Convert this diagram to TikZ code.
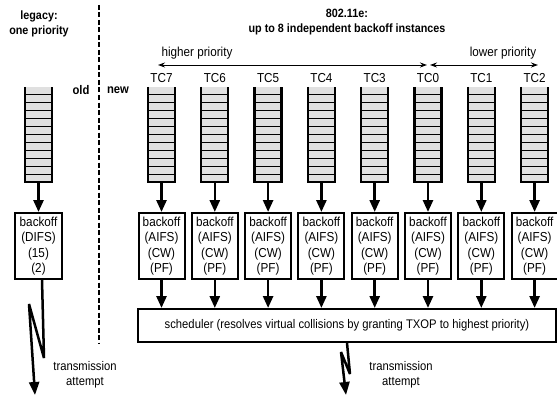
\documentclass[tikz,border=0pt]{standalone}
\usepackage{fontspec}
\setmainfont{Liberation Sans}[FakeStretch=0.9]
\usetikzlibrary{arrows.meta,calc}
\begin{document}
\begin{tikzpicture}[x=1pt,y=-1pt,
  wall/.style={line width=2.3pt},
  rung/.style={line width=1.1pt},
  qfill/.style={fill=black!12},
  bigarrow/.style={line width=2.6pt,-{Triangle[width=10pt,length=12pt]}},
  boxn/.style={draw,line width=2pt,minimum width=46pt,minimum height=66pt,inner sep=0pt,align=center,font=\fontsize{13}{15.5}\selectfont},
  schbox/.style={draw,line width=2pt,minimum width=418pt,minimum height=33pt,inner sep=0pt,font=\fontsize{12.5}{14}\selectfont},
  titlef/.style={align=center,inner sep=0pt,font=\fontsize{12}{15}\selectfont\bfseries},
  lbl/.style={inner sep=0pt,font=\fontsize{13}{15}\selectfont},
  small/.style={inner sep=0pt,align=center,font=\fontsize{12.5}{15}\selectfont},
  bolt/.style={line width=2.5pt,miter limit=4,-{Triangle[width=10pt,length=13pt]}},
  prio/.style={line width=0.9pt,{Stealth[length=7pt,width=5pt]}-{Stealth[length=7pt,width=5pt]}}
]
\useasboundingbox (0,0) rectangle (557,396);

% titles
\node[titlef] (leg) at (39,24) {legacy:\\one priority};
\node[titlef] (e) at (347,22) {802.11e:\\up to 8 independent backoff instances};
\node[titlef,font=\fontsize{12.5}{14}\selectfont\bfseries] (old) at (81,90) {old};
\node[titlef,font=\fontsize{12.5}{14}\selectfont\bfseries] (new) at (118,90) {new};

% divider
\coordinate (dtop) at (99,5);
\coordinate (dbot) at (99,343);
\draw[line width=2pt,dash pattern=on 5pt off 2.5pt] (dtop) -- (dbot);

% priority arrows
\node[lbl] (hp) at (197,53) {higher priority};
\node[lbl] (lp) at (503,53) {lower priority};
\coordinate (h1) at (158,65);
\coordinate (h2) at (427,65);
\coordinate (l1) at (430,65);
\coordinate (l2) at (538,65);
\draw[prio] (h1) -- (h2);
\draw[prio] (l1) -- (l2);

% scheduler
\node[schbox] (sch) at (347,325.5) {scheduler (resolves virtual collisions by granting TXOP to highest priority)};

% 802.11e queues
\foreach \i/\lab in {0/TC7,1/TC6,2/TC5,3/TC4,4/TC3,5/TC0,6/TC1,7/TC2}{
  \pgfmathsetmacro\cx{161.5+53.3*\i}
  \node[lbl] (tc\i) at (\cx,78) {\lab};
  \fill[qfill] (\cx-13.5,87) rectangle (\cx+13.5,182);
  \foreach \k in {1,...,11}{
    \draw[rung] (\cx-13.5,87+7.92*\k) -- (\cx+13.5,87+7.92*\k);
  }
  \draw[wall] (\cx-13.5,87) -- (\cx-13.5,182) -- (\cx+13.5,182) -- (\cx+13.5,87);
  \coordinate (q\i) at (\cx,182);
  \node[boxn] (b\i) at (\cx,246) {backoff\\(AIFS)\\(CW)\\(PF)};
  \draw[bigarrow] (q\i) -- (b\i.north);
  \draw[bigarrow] (b\i.south) -- (b\i.south |- sch.north);
}

% legacy queue
\fill[qfill] (25,87) rectangle (52,182);
\foreach \k in {1,...,11}{
  \draw[rung] (25,87+7.92*\k) -- (52,87+7.92*\k);
}
\draw[wall] (25,87) -- (25,182) -- (52,182) -- (52,87);
\coordinate (lq) at (38.5,182);
\node[boxn,minimum width=47pt] (lb) at (38.5,246) {backoff\\(DIFS)\\(15)\\(2)};
\draw[bigarrow] (lq) -- (lb.north);

% legacy lightning
\coordinate (ls) at ($(lb.south)+(3.5,0)$);
\coordinate (lt) at (35,395);
\draw[bolt] (ls) -- (44,358) -- (29,304) -- (lt);
\node[small] (tx1) at (85,375) {transmission\\attempt};

% scheduler lightning
\coordinate (ss) at (sch.south);
\coordinate (st) at (346,395);
\draw[bolt] (ss) -- (350,374) -- (341,352) -- (st);
\node[small] (tx2) at (401,375) {transmission\\attempt};
\end{tikzpicture}
\end{document}
